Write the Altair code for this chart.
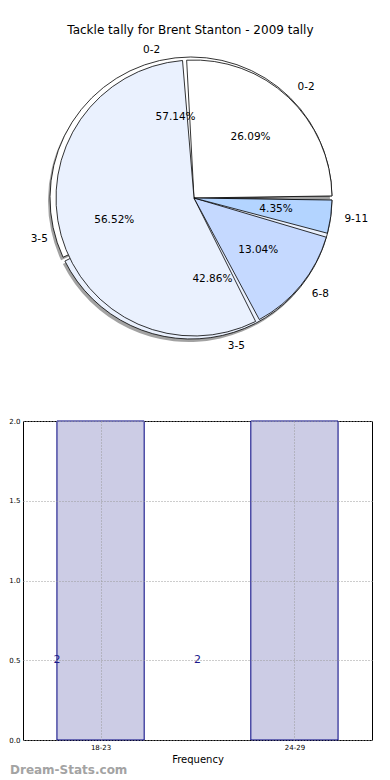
import json
import math
import altair as alt
import pandas as pd

# ---------------- data ----------------
chart_title = "Tackle tally for Brent Stanton - 2009 tally"

pie1_cats = ["0-2", "3-5", "6-8", "9-11"]
pie1_counts = [6, 13, 3, 1]

pie2_cats = ["0-2", "3-5"]
pie2_counts = [4, 3]

bar_cats = ["18-23", "24-29"]
bar_freq = [2, 2]

watermark = "Dream-Stats.com"

# ---------------- styles ----------------
FONT = "DejaVu Sans"
slice_colors = ["#ffffff", "#eaf1fe", "#c5d9ff", "#b3d4ff"]
R = 138
CX, CY = 171, 161
PIE_W, PIE_H = 349, 363
BAR_W, BAR_H = 349, 319

pie1_df = pd.DataFrame({"cat": pie1_cats, "n": pie1_counts, "k": range(len(pie1_cats))})
pie2_df = pd.DataFrame({"cat": pie2_cats, "n": pie2_counts, "k": range(len(pie2_cats))})

theta_scale = alt.Scale(range=[math.pi / 2, math.pi / 2 - 2 * math.pi])
color_scale = alt.Scale(domain=pie1_cats, range=slice_colors)


def pie_base(df):
    return (
        alt.Chart(df)
        .transform_joinaggregate(total="sum(n)")
        .transform_window(cum="sum(n)", frame=[None, 0], sort=[alt.SortField("k")])
        .transform_calculate(
            pct="format(datum.n / datum.total * 100, '.2f') + '%'",
            right="cos(2 * PI * (datum.cum - datum.n / 2) / datum.total) > 0",
        )
        .transform_calculate(
            lbl_r="datum.right ? datum.cat : ''",
            lbl_l="datum.right ? '' : datum.cat",
        )
        .encode(
            theta=alt.Theta("n:Q", stack="normalize", scale=theta_scale),
            order=alt.Order("k:Q"),
        )
    )


def slices(df, radius, dx, dy):
    return pie_base(df).mark_arc(
        radius=radius, stroke="black", strokeWidth=0.8, padAngle=0.03
    ).encode(
        color=alt.Color("cat:N", scale=color_scale, legend=None),
        x=alt.value(CX + dx),
        y=alt.value(CY + dy),
    )


def shadow(df, radius, dx, dy):
    return pie_base(df).mark_arc(
        radius=radius, color="#7a7a7a", opacity=0.7, padAngle=0.03
    ).encode(x=alt.value(CX + dx), y=alt.value(CY + dy))


def pct_text(df):
    return pie_base(df).mark_text(
        radius=0.6 * R, font=FONT, fontSize=10.5, color="black"
    ).encode(text="pct:N", x=alt.value(CX), y=alt.value(CY))


def cat_text(df, field, align):
    return pie_base(df).mark_text(
        radius=1.1 * R, font=FONT, fontSize=10.5, color="black", align=align, baseline="middle"
    ).encode(text=f"{field}:N", x=alt.value(CX), y=alt.value(CY))


pie = alt.layer(
    shadow(pie2_df, R + 3, -5, 3),
    slices(pie2_df, R + 3, -3, 0),
    slices(pie1_df, R, 0, 0),
    pct_text(pie2_df),
    cat_text(pie2_df, "lbl_r", "left"),
    cat_text(pie2_df, "lbl_l", "right"),
    pct_text(pie1_df),
    cat_text(pie1_df, "lbl_r", "left"),
    cat_text(pie1_df, "lbl_l", "right"),
).properties(width=PIE_W, height=PIE_H)

# ---------------- bar chart ----------------
bar_df = pd.DataFrame({"cat": bar_cats, "freq": bar_freq})
label_expr = json.dumps(bar_cats) + "[datum.value]"

x_scale = alt.Scale(domain=[-0.4, 1.4], nice=False, zero=False)
y_scale = alt.Scale(domain=[0, 2], nice=False)

bar_base = (
    alt.Chart(bar_df)
    .transform_window(rn="row_number()")
    .transform_calculate(
        x0="datum.rn - 1 - 0.225",
        x1="datum.rn - 1 + 0.225",
        tx="(datum.rn - 1) * 0.725 - 0.225",
        ty="datum.freq * 0.25",
    )
)

grid_kw = dict(
    labelFont=FONT,
    labelFontSize=7,
    labelColor="black",
    labelPadding=3,
    tickSize=0,
    domain=False,
    grid=True,
    gridColor="#9a9a9a",
    gridDash=[1, 2],
    gridWidth=1,
    zindex=1,
)

bars = bar_base.mark_bar(
    fill="#ccccE5", stroke="#000080", strokeWidth=1
).encode(
    x=alt.X(
        "x0:Q",
        scale=x_scale,
        axis=alt.Axis(
            values=[0, 1],
            labelExpr=label_expr,
            title="Frequency",
            titleFont=FONT,
            titleFontSize=10,
            titleFontWeight="normal",
            titlePadding=4,
            **grid_kw,
        ),
    ),
    x2="x1:Q",
    y=alt.Y(
        "freq:Q",
        scale=y_scale,
        axis=alt.Axis(values=[0, 0.5, 1, 1.5, 2], format=".1f", title=None, **grid_kw),
    ),
    y2=alt.datum(0),
)

bar_labels = bar_base.mark_text(
    font=FONT, fontSize=11, color="#1a1a8c"
).encode(x=alt.X("tx:Q", scale=x_scale), y=alt.Y("ty:Q", scale=y_scale), text="freq:Q")

wm = alt.Chart(pd.DataFrame({"t": [watermark]})).mark_text(
    align="left", baseline="middle", font=FONT, fontSize=12, fontWeight="bold", color="#a3a3a3"
).encode(x=alt.value(-13), y=alt.value(BAR_H + 30), text="t:N")

bar_chart = alt.layer(bars, bar_labels, wm).properties(
    width=BAR_W, height=BAR_H, view=alt.ViewBackground(stroke="black", strokeWidth=1)
)

chart = (
    alt.vconcat(
        pie,
        bar_chart,
        spacing=16,
        title=alt.Title(
            chart_title, font=FONT, fontSize=12, fontWeight="normal", anchor="middle", offset=0
        ),
    )
    .properties(padding={"left": 0, "top": 16, "right": 0, "bottom": 0})
    .configure_view(stroke=None)
)

chart.save("out.html", embed_options={"renderer": "svg", "actions": False})
